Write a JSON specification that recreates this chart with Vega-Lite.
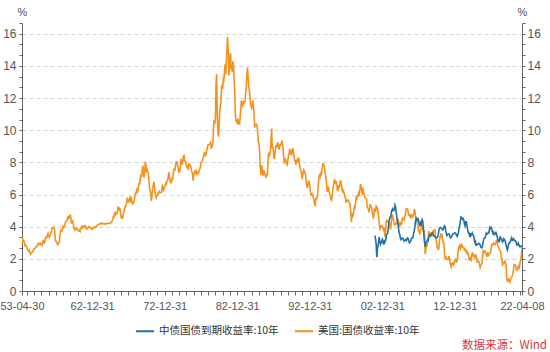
{
"$schema":"https://vega.github.io/schema/vega-lite/v6.json",
"autosize":{"type":"none"},
"width":500,"height":268,
"padding":{"left":22,"top":23,"right":28,"bottom":61},
"background":"white",
"title":{"text":"数据来源：Wind","orient":"bottom","anchor":"end","color":"#d9363e","fontSize":11.5,"font":"Noto Sans CJK SC","fontWeight":"normal","offset":3,"baseline":"top","dx":25,"frame":"group"},
"data":{"format":{"parse":{"d":"date"}},"values":[
{"d":"1953-04-30","u":2.97},{"d":"1953-05","u":3.12},{"d":"1953-06","u":3.23},{"d":"1953-07","u":3.09},{"d":"1953-08","u":3.12},{"d":"1953-09","u":2.99},{"d":"1953-10","u":2.82},{"d":"1953-11","u":2.85},{"d":"1953-12","u":2.79},
{"d":"1954-01","u":2.69},{"d":"1954-02","u":2.62},{"d":"1954-03","u":2.53},{"d":"1954-04","u":2.48},{"d":"1954-05","u":2.54},{"d":"1954-06","u":2.38},{"d":"1954-07","u":2.3},{"d":"1954-08","u":2.36},{"d":"1954-09","u":2.38},{"d":"1954-10","u":2.43},{"d":"1954-11","u":2.48},{"d":"1954-12","u":2.51},
{"d":"1955-01","u":2.61},{"d":"1955-02","u":2.65},{"d":"1955-03","u":2.68},{"d":"1955-04","u":2.75},{"d":"1955-05","u":2.76},{"d":"1955-06","u":2.78},{"d":"1955-07","u":2.9},{"d":"1955-08","u":2.97},{"d":"1955-09","u":2.97},{"d":"1955-10","u":2.88},{"d":"1955-11","u":2.89},{"d":"1955-12","u":2.96},
{"d":"1956-01","u":2.9},{"d":"1956-02","u":2.84},{"d":"1956-03","u":2.96},{"d":"1956-04","u":3.18},{"d":"1956-05","u":3.07},{"d":"1956-06","u":3.0},{"d":"1956-07","u":3.11},{"d":"1956-08","u":3.33},{"d":"1956-09","u":3.38},{"d":"1956-10","u":3.34},{"d":"1956-11","u":3.49},{"d":"1956-12","u":3.59},
{"d":"1957-01","u":3.46},{"d":"1957-02","u":3.34},{"d":"1957-03","u":3.41},{"d":"1957-04","u":3.48},{"d":"1957-05","u":3.6},{"d":"1957-06","u":3.8},{"d":"1957-07","u":3.93},{"d":"1957-08","u":3.93},{"d":"1957-09","u":3.92},{"d":"1957-10","u":3.97},{"d":"1957-11","u":3.72},{"d":"1957-12","u":3.21},
{"d":"1958-01","u":3.09},{"d":"1958-02","u":3.05},{"d":"1958-03","u":2.98},{"d":"1958-04","u":2.88},{"d":"1958-05","u":2.92},{"d":"1958-06","u":2.97},{"d":"1958-07","u":3.2},{"d":"1958-08","u":3.54},{"d":"1958-09","u":3.76},{"d":"1958-10","u":3.8},{"d":"1958-11","u":3.74},{"d":"1958-12","u":3.86},
{"d":"1959-01","u":4.02},{"d":"1959-02","u":3.96},{"d":"1959-03","u":3.99},{"d":"1959-04","u":4.12},{"d":"1959-05","u":4.31},{"d":"1959-06","u":4.34},{"d":"1959-07","u":4.4},{"d":"1959-08","u":4.43},{"d":"1959-09","u":4.68},{"d":"1959-10","u":4.53},{"d":"1959-11","u":4.53},{"d":"1959-12","u":4.69},
{"d":"1960-01","u":4.72},{"d":"1960-02","u":4.49},{"d":"1960-03","u":4.25},{"d":"1960-04","u":4.28},{"d":"1960-05","u":4.35},{"d":"1960-06","u":4.15},{"d":"1960-07","u":3.9},{"d":"1960-08","u":3.8},{"d":"1960-09","u":3.8},{"d":"1960-10","u":3.89},{"d":"1960-11","u":3.93},{"d":"1960-12","u":3.84},
{"d":"1961-01","u":3.84},{"d":"1961-02","u":3.78},{"d":"1961-03","u":3.74},{"d":"1961-04","u":3.78},{"d":"1961-05","u":3.71},{"d":"1961-06","u":3.88},{"d":"1961-07","u":3.92},{"d":"1961-08","u":4.04},{"d":"1961-09","u":3.98},{"d":"1961-10","u":3.92},{"d":"1961-11","u":3.94},{"d":"1961-12","u":4.06},
{"d":"1962-01","u":4.08},{"d":"1962-02","u":4.04},{"d":"1962-03","u":3.93},{"d":"1962-04","u":3.84},{"d":"1962-05","u":3.87},{"d":"1962-06","u":3.91},{"d":"1962-07","u":4.01},{"d":"1962-08","u":3.98},{"d":"1962-09","u":3.98},{"d":"1962-10","u":3.93},{"d":"1962-11","u":3.92},{"d":"1962-12","u":3.86},
{"d":"1963-01","u":3.83},{"d":"1963-02","u":3.92},{"d":"1963-03","u":3.93},{"d":"1963-04","u":3.97},{"d":"1963-05","u":3.93},{"d":"1963-06","u":3.99},{"d":"1963-07","u":4.02},{"d":"1963-08","u":4.0},{"d":"1963-09","u":4.08},{"d":"1963-10","u":4.11},{"d":"1963-11","u":4.12},{"d":"1963-12","u":4.13},
{"d":"1964-01","u":4.17},{"d":"1964-02","u":4.15},{"d":"1964-03","u":4.22},{"d":"1964-04","u":4.23},{"d":"1964-05","u":4.2},{"d":"1964-06","u":4.17},{"d":"1964-07","u":4.19},{"d":"1964-08","u":4.19},{"d":"1964-09","u":4.2},{"d":"1964-10","u":4.19},{"d":"1964-11","u":4.15},{"d":"1964-12","u":4.18},
{"d":"1965-01","u":4.19},{"d":"1965-02","u":4.21},{"d":"1965-03","u":4.21},{"d":"1965-04","u":4.2},{"d":"1965-05","u":4.21},{"d":"1965-06","u":4.21},{"d":"1965-07","u":4.2},{"d":"1965-08","u":4.25},{"d":"1965-09","u":4.29},{"d":"1965-10","u":4.35},{"d":"1965-11","u":4.45},{"d":"1965-12","u":4.62},
{"d":"1966-01","u":4.61},{"d":"1966-02","u":4.83},{"d":"1966-03","u":4.87},{"d":"1966-04","u":4.75},{"d":"1966-05","u":4.78},{"d":"1966-06","u":4.81},{"d":"1966-07","u":5.02},{"d":"1966-08","u":5.22},{"d":"1966-09","u":5.18},{"d":"1966-10","u":5.01},{"d":"1966-11","u":5.16},{"d":"1966-12","u":4.84},
{"d":"1967-01","u":4.58},{"d":"1967-02","u":4.63},{"d":"1967-03","u":4.54},{"d":"1967-04","u":4.59},{"d":"1967-05","u":4.85},{"d":"1967-06","u":5.02},{"d":"1967-07","u":5.16},{"d":"1967-08","u":5.28},{"d":"1967-09","u":5.3},{"d":"1967-10","u":5.48},{"d":"1967-11","u":5.75},{"d":"1967-12","u":5.7},
{"d":"1968-01","u":5.53},{"d":"1968-02","u":5.56},{"d":"1968-03","u":5.74},{"d":"1968-04","u":5.64},{"d":"1968-05","u":5.87},{"d":"1968-06","u":5.72},{"d":"1968-07","u":5.5},{"d":"1968-08","u":5.42},{"d":"1968-09","u":5.46},{"d":"1968-10","u":5.58},{"d":"1968-11","u":5.7},{"d":"1968-12","u":6.03},
{"d":"1969-01","u":6.04},{"d":"1969-02","u":6.19},{"d":"1969-03","u":6.3},{"d":"1969-04","u":6.17},{"d":"1969-05","u":6.32},{"d":"1969-06","u":6.57},{"d":"1969-07","u":6.72},{"d":"1969-08","u":6.69},{"d":"1969-09","u":7.16},{"d":"1969-10","u":7.1},{"d":"1969-11","u":7.14},{"d":"1969-12","u":7.65},
{"d":"1970-01","u":7.79},{"d":"1970-02","u":7.24},{"d":"1970-03","u":7.07},{"d":"1970-04","u":7.39},{"d":"1970-05","u":8.05},{"d":"1970-06","u":7.84},{"d":"1970-07","u":7.46},{"d":"1970-08","u":7.53},{"d":"1970-09","u":7.39},{"d":"1970-10","u":7.33},{"d":"1970-11","u":6.84},{"d":"1970-12","u":6.39},
{"d":"1971-01","u":6.24},{"d":"1971-02","u":6.11},{"d":"1971-03","u":5.6},{"d":"1971-04","u":5.83},{"d":"1971-05","u":6.39},{"d":"1971-06","u":6.52},{"d":"1971-07","u":6.8},{"d":"1971-08","u":6.58},{"d":"1971-09","u":6.14},{"d":"1971-10","u":5.93},{"d":"1971-11","u":5.81},{"d":"1971-12","u":5.93},
{"d":"1972-01","u":5.95},{"d":"1972-02","u":6.08},{"d":"1972-03","u":6.07},{"d":"1972-04","u":6.19},{"d":"1972-05","u":6.13},{"d":"1972-06","u":6.11},{"d":"1972-07","u":6.11},{"d":"1972-08","u":6.21},{"d":"1972-09","u":6.55},{"d":"1972-10","u":6.48},{"d":"1972-11","u":6.28},{"d":"1972-12","u":6.36},
{"d":"1973-01","u":6.46},{"d":"1973-02","u":6.64},{"d":"1973-03","u":6.71},{"d":"1973-04","u":6.67},{"d":"1973-05","u":6.85},{"d":"1973-06","u":6.9},{"d":"1973-07","u":7.13},{"d":"1973-08","u":7.4},{"d":"1973-09","u":7.09},{"d":"1973-10","u":6.79},{"d":"1973-11","u":6.73},{"d":"1973-12","u":6.74},
{"d":"1974-01","u":6.99},{"d":"1974-02","u":6.96},{"d":"1974-03","u":7.21},{"d":"1974-04","u":7.51},{"d":"1974-05","u":7.58},{"d":"1974-06","u":7.54},{"d":"1974-07","u":7.81},{"d":"1974-08","u":8.04},{"d":"1974-09","u":8.04},{"d":"1974-10","u":7.9},{"d":"1974-11","u":7.68},{"d":"1974-12","u":7.43},
{"d":"1975-01","u":7.5},{"d":"1975-02","u":7.39},{"d":"1975-03","u":7.73},{"d":"1975-04","u":8.23},{"d":"1975-05","u":8.06},{"d":"1975-06","u":7.86},{"d":"1975-07","u":8.06},{"d":"1975-08","u":8.4},{"d":"1975-09","u":8.43},{"d":"1975-10","u":8.14},{"d":"1975-11","u":8.05},{"d":"1975-12","u":8.0},
{"d":"1976-01","u":7.74},{"d":"1976-02","u":7.79},{"d":"1976-03","u":7.73},{"d":"1976-04","u":7.56},{"d":"1976-05","u":7.9},{"d":"1976-06","u":7.86},{"d":"1976-07","u":7.83},{"d":"1976-08","u":7.77},{"d":"1976-09","u":7.59},{"d":"1976-10","u":7.41},{"d":"1976-11","u":7.29},{"d":"1976-12","u":6.87},
{"d":"1977-01","u":7.21},{"d":"1977-02","u":7.39},{"d":"1977-03","u":7.46},{"d":"1977-04","u":7.37},{"d":"1977-05","u":7.46},{"d":"1977-06","u":7.28},{"d":"1977-07","u":7.33},{"d":"1977-08","u":7.4},{"d":"1977-09","u":7.34},{"d":"1977-10","u":7.52},{"d":"1977-11","u":7.58},{"d":"1977-12","u":7.69},
{"d":"1978-01","u":7.96},{"d":"1978-02","u":8.03},{"d":"1978-03","u":8.04},{"d":"1978-04","u":8.15},{"d":"1978-05","u":8.35},{"d":"1978-06","u":8.46},{"d":"1978-07","u":8.64},{"d":"1978-08","u":8.41},{"d":"1978-09","u":8.42},{"d":"1978-10","u":8.64},{"d":"1978-11","u":8.81},{"d":"1978-12","u":9.01},
{"d":"1979-01","u":9.1},{"d":"1979-02","u":9.1},{"d":"1979-03","u":9.12},{"d":"1979-04","u":9.18},{"d":"1979-05","u":9.25},{"d":"1979-06","u":8.91},{"d":"1979-07","u":8.95},{"d":"1979-08","u":9.03},{"d":"1979-09","u":9.33},{"d":"1979-10","u":10.3},{"d":"1979-11","u":10.65},{"d":"1979-12","u":10.39},
{"d":"1980-01","u":10.8},{"d":"1980-02","u":12.9},{"d":"1980-03","u":13.5},{"d":"1980-04","u":11.0},{"d":"1980-05","u":10.0},{"d":"1980-06","u":9.6},{"d":"1980-07","u":10.25},{"d":"1980-08","u":11.1},{"d":"1980-09","u":11.51},{"d":"1980-10","u":11.75},{"d":"1980-11","u":12.68},{"d":"1980-12","u":12.84},
{"d":"1981-01","u":12.57},{"d":"1981-02","u":13.19},{"d":"1981-03","u":13.12},{"d":"1981-04","u":13.68},{"d":"1981-05","u":14.1},{"d":"1981-06","u":13.47},{"d":"1981-07","u":14.28},{"d":"1981-08","u":14.94},{"d":"1981-09","u":15.8},{"d":"1981-10","u":15.15},{"d":"1981-11","u":13.39},{"d":"1981-12","u":13.72},
{"d":"1982-01","u":14.59},{"d":"1982-02","u":14.8},{"d":"1982-03","u":13.86},{"d":"1982-04","u":13.87},{"d":"1982-05","u":13.62},{"d":"1982-06","u":14.3},{"d":"1982-07","u":13.95},{"d":"1982-08","u":13.06},{"d":"1982-09","u":12.34},{"d":"1982-10","u":10.91},{"d":"1982-11","u":10.55},{"d":"1982-12","u":10.54},
{"d":"1983-01","u":10.46},{"d":"1983-02","u":10.72},{"d":"1983-03","u":10.51},{"d":"1983-04","u":10.4},{"d":"1983-05","u":10.38},{"d":"1983-06","u":10.85},{"d":"1983-07","u":11.38},{"d":"1983-08","u":11.85},{"d":"1983-09","u":11.65},{"d":"1983-10","u":11.54},{"d":"1983-11","u":11.69},{"d":"1983-12","u":11.83},
{"d":"1984-01","u":11.67},{"d":"1984-02","u":11.84},{"d":"1984-03","u":12.32},{"d":"1984-04","u":12.63},{"d":"1984-05","u":13.41},{"d":"1984-06","u":13.9},{"d":"1984-07","u":13.36},{"d":"1984-08","u":12.72},{"d":"1984-09","u":12.52},{"d":"1984-10","u":12.16},{"d":"1984-11","u":11.57},{"d":"1984-12","u":11.5},
{"d":"1985-01","u":11.38},{"d":"1985-02","u":11.51},{"d":"1985-03","u":11.86},{"d":"1985-04","u":11.43},{"d":"1985-05","u":10.85},{"d":"1985-06","u":10.16},{"d":"1985-07","u":10.31},{"d":"1985-08","u":10.33},{"d":"1985-09","u":10.37},{"d":"1985-10","u":10.24},{"d":"1985-11","u":9.78},{"d":"1985-12","u":9.26},
{"d":"1986-01","u":9.19},{"d":"1986-02","u":8.7},{"d":"1986-03","u":7.78},{"d":"1986-04","u":7.2},{"d":"1986-05","u":7.71},{"d":"1986-06","u":7.8},{"d":"1986-07","u":7.3},{"d":"1986-08","u":7.17},{"d":"1986-09","u":7.45},{"d":"1986-10","u":7.43},{"d":"1986-11","u":7.25},{"d":"1986-12","u":7.11},
{"d":"1987-01","u":7.08},{"d":"1987-02","u":7.25},{"d":"1987-03","u":7.25},{"d":"1987-04","u":8.02},{"d":"1987-05","u":8.61},{"d":"1987-06","u":8.4},{"d":"1987-07","u":8.45},{"d":"1987-08","u":8.76},{"d":"1987-09","u":9.42},{"d":"1987-10","u":10.1},{"d":"1987-11","u":8.86},{"d":"1987-12","u":8.99},
{"d":"1988-01","u":8.67},{"d":"1988-02","u":8.21},{"d":"1988-03","u":8.37},{"d":"1988-04","u":8.72},{"d":"1988-05","u":9.09},{"d":"1988-06","u":8.92},{"d":"1988-07","u":9.06},{"d":"1988-08","u":9.26},{"d":"1988-09","u":8.98},{"d":"1988-10","u":8.8},{"d":"1988-11","u":8.96},{"d":"1988-12","u":9.11},
{"d":"1989-01","u":9.09},{"d":"1989-02","u":9.17},{"d":"1989-03","u":9.36},{"d":"1989-04","u":9.18},{"d":"1989-05","u":8.86},{"d":"1989-06","u":8.28},{"d":"1989-07","u":8.02},{"d":"1989-08","u":8.11},{"d":"1989-09","u":8.19},{"d":"1989-10","u":8.01},{"d":"1989-11","u":7.87},{"d":"1989-12","u":7.84},
{"d":"1990-01","u":8.21},{"d":"1990-02","u":8.47},{"d":"1990-03","u":8.59},{"d":"1990-04","u":8.79},{"d":"1990-05","u":8.76},{"d":"1990-06","u":8.48},{"d":"1990-07","u":8.47},{"d":"1990-08","u":8.75},{"d":"1990-09","u":8.89},{"d":"1990-10","u":8.72},{"d":"1990-11","u":8.39},{"d":"1990-12","u":8.08},
{"d":"1991-01","u":8.09},{"d":"1991-02","u":7.85},{"d":"1991-03","u":8.11},{"d":"1991-04","u":8.04},{"d":"1991-05","u":8.07},{"d":"1991-06","u":8.28},{"d":"1991-07","u":8.27},{"d":"1991-08","u":7.9},{"d":"1991-09","u":7.65},{"d":"1991-10","u":7.53},{"d":"1991-11","u":7.42},{"d":"1991-12","u":7.09},
{"d":"1992-01","u":7.03},{"d":"1992-02","u":7.34},{"d":"1992-03","u":7.54},{"d":"1992-04","u":7.48},{"d":"1992-05","u":7.39},{"d":"1992-06","u":7.26},{"d":"1992-07","u":6.84},{"d":"1992-08","u":6.59},{"d":"1992-09","u":6.42},{"d":"1992-10","u":6.59},{"d":"1992-11","u":6.87},{"d":"1992-12","u":6.77},
{"d":"1993-01","u":6.6},{"d":"1993-02","u":6.26},{"d":"1993-03","u":5.98},{"d":"1993-04","u":5.97},{"d":"1993-05","u":6.04},{"d":"1993-06","u":5.96},{"d":"1993-07","u":5.81},{"d":"1993-08","u":5.68},{"d":"1993-09","u":5.36},{"d":"1993-10","u":5.33},{"d":"1993-11","u":5.72},{"d":"1993-12","u":5.77},
{"d":"1994-01","u":5.75},{"d":"1994-02","u":5.97},{"d":"1994-03","u":6.48},{"d":"1994-04","u":6.97},{"d":"1994-05","u":7.18},{"d":"1994-06","u":7.1},{"d":"1994-07","u":7.3},{"d":"1994-08","u":7.24},{"d":"1994-09","u":7.46},{"d":"1994-10","u":7.74},{"d":"1994-11","u":7.96},{"d":"1994-12","u":7.81},
{"d":"1995-01","u":7.78},{"d":"1995-02","u":7.47},{"d":"1995-03","u":7.2},{"d":"1995-04","u":7.06},{"d":"1995-05","u":6.63},{"d":"1995-06","u":6.17},{"d":"1995-07","u":6.28},{"d":"1995-08","u":6.49},{"d":"1995-09","u":6.2},{"d":"1995-10","u":6.04},{"d":"1995-11","u":5.93},{"d":"1995-12","u":5.71},
{"d":"1996-01","u":5.65},{"d":"1996-02","u":5.81},{"d":"1996-03","u":6.27},{"d":"1996-04","u":6.51},{"d":"1996-05","u":6.74},{"d":"1996-06","u":6.91},{"d":"1996-07","u":6.87},{"d":"1996-08","u":6.64},{"d":"1996-09","u":6.83},{"d":"1996-10","u":6.53},{"d":"1996-11","u":6.2},{"d":"1996-12","u":6.3},
{"d":"1997-01","u":6.58},{"d":"1997-02","u":6.42},{"d":"1997-03","u":6.69},{"d":"1997-04","u":6.89},{"d":"1997-05","u":6.71},{"d":"1997-06","u":6.49},{"d":"1997-07","u":6.22},{"d":"1997-08","u":6.3},{"d":"1997-09","u":6.21},{"d":"1997-10","u":6.03},{"d":"1997-11","u":5.88},{"d":"1997-12","u":5.81},
{"d":"1998-01","u":5.54},{"d":"1998-02","u":5.57},{"d":"1998-03","u":5.65},{"d":"1998-04","u":5.64},{"d":"1998-05","u":5.65},{"d":"1998-06","u":5.5},{"d":"1998-07","u":5.46},{"d":"1998-08","u":5.34},{"d":"1998-09","u":4.81},{"d":"1998-10","u":4.3},{"d":"1998-11","u":4.83},{"d":"1998-12","u":4.65},
{"d":"1999-01","u":4.72},{"d":"1999-02","u":5.0},{"d":"1999-03","u":5.23},{"d":"1999-04","u":5.18},{"d":"1999-05","u":5.54},{"d":"1999-06","u":5.9},{"d":"1999-07","u":5.79},{"d":"1999-08","u":5.94},{"d":"1999-09","u":5.92},{"d":"1999-10","u":6.11},{"d":"1999-11","u":6.03},{"d":"1999-12","u":6.28},
{"d":"2000-01","u":6.66},{"d":"2000-02","u":6.52},{"d":"2000-03","u":6.26},{"d":"2000-04","u":5.99},{"d":"2000-05","u":6.44},{"d":"2000-06","u":6.1},{"d":"2000-07","u":6.05},{"d":"2000-08","u":5.83},{"d":"2000-09","u":5.8},{"d":"2000-10","u":5.74},{"d":"2000-11","u":5.72},{"d":"2000-12","u":5.24},
{"d":"2001-01","u":5.16},{"d":"2001-02","u":5.1},{"d":"2001-03","u":4.89},{"d":"2001-04","u":5.14},{"d":"2001-05","u":5.39},{"d":"2001-06","u":5.28},{"d":"2001-07","u":5.24},{"d":"2001-08","u":4.97},{"d":"2001-09","u":4.73},{"d":"2001-10","u":4.57},{"d":"2001-11","u":4.65},{"d":"2001-12","u":5.09},
{"d":"2002-01","u":5.04,"c":3.45},{"d":"2002-02","u":4.91,"c":3.2},{"d":"2002-03","u":5.28,"c":2.9},{"d":"2002-04","u":5.21,"c":2.1},{"d":"2002-05","u":5.16,"c":2.6},{"d":"2002-06","u":4.93,"c":2.8},{"d":"2002-07","u":4.65,"c":3.1},{"d":"2002-08","u":4.26,"c":3.35},{"d":"2002-09","u":3.87,"c":3.05},{"d":"2002-10","u":3.94,"c":2.9},{"d":"2002-11","u":4.05,"c":3.0},{"d":"2002-12","u":4.03,"c":3.1},
{"d":"2003-01","u":4.05,"c":3.2},{"d":"2003-02","u":3.9,"c":3.0},{"d":"2003-03","u":3.81,"c":2.95},{"d":"2003-04","u":3.96,"c":3.1},{"d":"2003-05","u":3.57,"c":3.0},{"d":"2003-06","u":3.33,"c":3.1},{"d":"2003-07","u":3.98,"c":3.2},{"d":"2003-08","u":4.45,"c":3.45},{"d":"2003-09","u":4.27,"c":3.55},{"d":"2003-10","u":4.29,"c":3.6},{"d":"2003-11","u":4.3,"c":3.85},{"d":"2003-12","u":4.27,"c":4.3},
{"d":"2004-01","u":4.15,"c":4.5},{"d":"2004-02","u":4.08,"c":4.6},{"d":"2004-03","u":3.83,"c":4.6},{"d":"2004-04","u":4.35,"c":4.9},{"d":"2004-05","u":4.72,"c":5.0},{"d":"2004-06","u":4.73,"c":5.1},{"d":"2004-07","u":4.5,"c":5.0},{"d":"2004-08","u":4.28,"c":5.0},{"d":"2004-09","u":4.13,"c":5.1},{"d":"2004-10","u":4.1,"c":5.35},{"d":"2004-11","u":4.19,"c":5.25},{"d":"2004-12","u":4.23,"c":4.9},
{"d":"2005-01","u":4.22,"c":4.6},{"d":"2005-02","u":4.17,"c":4.3},{"d":"2005-03","u":4.5,"c":4.2},{"d":"2005-04","u":4.34,"c":3.9},{"d":"2005-05","u":4.14,"c":3.6},{"d":"2005-06","u":4.0,"c":3.5},{"d":"2005-07","u":4.18,"c":3.3},{"d":"2005-08","u":4.26,"c":3.2},{"d":"2005-09","u":4.2,"c":3.25},{"d":"2005-10","u":4.46,"c":3.3},{"d":"2005-11","u":4.54,"c":3.3},{"d":"2005-12","u":4.47,"c":3.2},
{"d":"2006-01","u":4.42,"c":3.1},{"d":"2006-02","u":4.57,"c":3.15},{"d":"2006-03","u":4.72,"c":3.15},{"d":"2006-04","u":4.99,"c":3.2},{"d":"2006-05","u":5.11,"c":3.15},{"d":"2006-06","u":5.11,"c":3.25},{"d":"2006-07","u":5.09,"c":3.3},{"d":"2006-08","u":4.88,"c":3.25},{"d":"2006-09","u":4.72,"c":3.1},{"d":"2006-10","u":4.73,"c":3.0},{"d":"2006-11","u":4.6,"c":3.05},{"d":"2006-12","u":4.56,"c":3.1},
{"d":"2007-01","u":4.76,"c":3.25},{"d":"2007-02","u":4.72,"c":3.3},{"d":"2007-03","u":4.56,"c":3.3},{"d":"2007-04","u":4.69,"c":3.35},{"d":"2007-05","u":4.75,"c":3.6},{"d":"2007-06","u":5.1,"c":3.75},{"d":"2007-07","u":5.0,"c":4.0},{"d":"2007-08","u":4.67,"c":4.35},{"d":"2007-09","u":4.52,"c":4.5},{"d":"2007-10","u":4.53,"c":4.4},{"d":"2007-11","u":4.15,"c":4.45},{"d":"2007-12","u":4.1,"c":4.5},
{"d":"2008-01","u":3.74,"c":4.4},{"d":"2008-02","u":3.74,"c":4.2},{"d":"2008-03","u":3.51,"c":4.1},{"d":"2008-04","u":3.68,"c":4.2},{"d":"2008-05","u":3.88,"c":4.05},{"d":"2008-06","u":4.1,"c":4.35},{"d":"2008-07","u":4.01,"c":4.45},{"d":"2008-08","u":3.89,"c":4.35},{"d":"2008-09","u":3.69,"c":3.9},{"d":"2008-10","u":3.81,"c":3.4},{"d":"2008-11","u":3.53,"c":3.0},{"d":"2008-12","u":2.3,"c":2.75},
{"d":"2009-01","u":2.52,"c":3.0},{"d":"2009-02","u":2.87,"c":3.05},{"d":"2009-03","u":2.82,"c":3.1},{"d":"2009-04","u":2.93,"c":3.2},{"d":"2009-05","u":3.29,"c":3.15},{"d":"2009-06","u":3.72,"c":3.3},{"d":"2009-07","u":3.56,"c":3.5},{"d":"2009-08","u":3.59,"c":3.5},{"d":"2009-09","u":3.4,"c":3.45},{"d":"2009-10","u":3.39,"c":3.55},{"d":"2009-11","u":3.4,"c":3.6},{"d":"2009-12","u":3.59,"c":3.6},
{"d":"2010-01","u":3.73,"c":3.55},{"d":"2010-02","u":3.69,"c":3.45},{"d":"2010-03","u":3.73,"c":3.4},{"d":"2010-04","u":3.85,"c":3.4},{"d":"2010-05","u":3.42,"c":3.35},{"d":"2010-06","u":3.2,"c":3.3},{"d":"2010-07","u":3.01,"c":3.3},{"d":"2010-08","u":2.7,"c":3.35},{"d":"2010-09","u":2.65,"c":3.4},{"d":"2010-10","u":2.54,"c":3.6},{"d":"2010-11","u":2.76,"c":3.85},{"d":"2010-12","u":3.29,"c":3.9},
{"d":"2011-01","u":3.39,"c":3.95},{"d":"2011-02","u":3.58,"c":3.95},{"d":"2011-03","u":3.41,"c":3.9},{"d":"2011-04","u":3.46,"c":3.85},{"d":"2011-05","u":3.17,"c":3.8},{"d":"2011-06","u":3.0,"c":3.85},{"d":"2011-07","u":3.0,"c":3.95},{"d":"2011-08","u":2.3,"c":4.05},{"d":"2011-09","u":1.98,"c":4.0},{"d":"2011-10","u":2.15,"c":3.75},{"d":"2011-11","u":2.01,"c":3.6},{"d":"2011-12","u":1.98,"c":3.45},
{"d":"2012-01","u":1.97,"c":3.5},{"d":"2012-02","u":1.97,"c":3.55},{"d":"2012-03","u":2.17,"c":3.55},{"d":"2012-04","u":2.05,"c":3.55},{"d":"2012-05","u":1.8,"c":3.35},{"d":"2012-06","u":1.62,"c":3.3},{"d":"2012-07","u":1.5,"c":3.35},{"d":"2012-08","u":1.68,"c":3.4},{"d":"2012-09","u":1.72,"c":3.5},{"d":"2012-10","u":1.75,"c":3.55},{"d":"2012-11","u":1.65,"c":3.55},{"d":"2012-12","u":1.72,"c":3.6},
{"d":"2013-01","u":1.91,"c":3.6},{"d":"2013-02","u":1.98,"c":3.6},{"d":"2013-03","u":1.96,"c":3.55},{"d":"2013-04","u":1.76,"c":3.45},{"d":"2013-05","u":1.93,"c":3.4},{"d":"2013-06","u":2.3,"c":3.5},{"d":"2013-07","u":2.58,"c":3.6},{"d":"2013-08","u":2.74,"c":3.9},{"d":"2013-09","u":2.81,"c":4.05},{"d":"2013-10","u":2.62,"c":4.25},{"d":"2013-11","u":2.72,"c":4.6},{"d":"2013-12","u":2.9,"c":4.6},
{"d":"2014-01","u":2.86,"c":4.5},{"d":"2014-02","u":2.71,"c":4.45},{"d":"2014-03","u":2.72,"c":4.5},{"d":"2014-04","u":2.71,"c":4.4},{"d":"2014-05","u":2.56,"c":4.15},{"d":"2014-06","u":2.6,"c":4.05},{"d":"2014-07","u":2.54,"c":4.3},{"d":"2014-08","u":2.42,"c":4.3},{"d":"2014-09","u":2.53,"c":4.15},{"d":"2014-10","u":2.3,"c":3.9},{"d":"2014-11","u":2.33,"c":3.65},{"d":"2014-12","u":2.21,"c":3.65},
{"d":"2015-01","u":1.88,"c":3.5},{"d":"2015-02","u":1.98,"c":3.35},{"d":"2015-03","u":2.04,"c":3.6},{"d":"2015-04","u":1.94,"c":3.45},{"d":"2015-05","u":2.2,"c":3.5},{"d":"2015-06","u":2.36,"c":3.6},{"d":"2015-07","u":2.32,"c":3.5},{"d":"2015-08","u":2.17,"c":3.45},{"d":"2015-09","u":2.17,"c":3.3},{"d":"2015-10","u":2.07,"c":3.05},{"d":"2015-11","u":2.26,"c":3.1},{"d":"2015-12","u":2.24,"c":2.85},
{"d":"2016-01","u":2.09,"c":2.85},{"d":"2016-02","u":1.78,"c":2.9},{"d":"2016-03","u":1.89,"c":2.9},{"d":"2016-04","u":1.81,"c":2.95},{"d":"2016-05","u":1.81,"c":2.95},{"d":"2016-06","u":1.64,"c":2.95},{"d":"2016-07","u":1.45,"c":2.85},{"d":"2016-08","u":1.56,"c":2.75},{"d":"2016-09","u":1.63,"c":2.7},{"d":"2016-10","u":1.76,"c":2.7},{"d":"2016-11","u":2.14,"c":2.85},{"d":"2016-12","u":2.49,"c":3.05},
{"d":"2017-01","u":2.43,"c":3.25},{"d":"2017-02","u":2.42,"c":3.3},{"d":"2017-03","u":2.48,"c":3.3},{"d":"2017-04","u":2.3,"c":3.4},{"d":"2017-05","u":2.3,"c":3.6},{"d":"2017-06","u":2.19,"c":3.55},{"d":"2017-07","u":2.32,"c":3.55},{"d":"2017-08","u":2.21,"c":3.6},{"d":"2017-09","u":2.2,"c":3.6},{"d":"2017-10","u":2.36,"c":3.75},{"d":"2017-11","u":2.35,"c":3.95},{"d":"2017-12","u":2.4,"c":3.9},
{"d":"2018-01","u":2.58,"c":3.95},{"d":"2018-02","u":2.86,"c":3.85},{"d":"2018-03","u":2.84,"c":3.75},{"d":"2018-04","u":2.87,"c":3.6},{"d":"2018-05","u":2.98,"c":3.65},{"d":"2018-06","u":2.91,"c":3.5},{"d":"2018-07","u":2.89,"c":3.5},{"d":"2018-08","u":2.89,"c":3.6},{"d":"2018-09","u":3.0,"c":3.65},{"d":"2018-10","u":3.15,"c":3.55},{"d":"2018-11","u":3.12,"c":3.4},{"d":"2018-12","u":2.83,"c":3.25},
{"d":"2019-01","u":2.71,"c":3.1},{"d":"2019-02","u":2.68,"c":3.15},{"d":"2019-03","u":2.57,"c":3.1},{"d":"2019-04","u":2.53,"c":3.4},{"d":"2019-05","u":2.4,"c":3.3},{"d":"2019-06","u":2.07,"c":3.25},{"d":"2019-07","u":2.06,"c":3.15},{"d":"2019-08","u":1.63,"c":3.05},{"d":"2019-09","u":1.7,"c":3.1},{"d":"2019-10","u":1.71,"c":3.25},{"d":"2019-11","u":1.81,"c":3.2},{"d":"2019-12","u":1.86,"c":3.15},
{"d":"2020-01","u":1.76,"c":3.0},{"d":"2020-02","u":1.5,"c":2.85},{"d":"2020-03","u":0.75,"c":2.65},{"d":"2020-04","u":0.62,"c":2.55},{"d":"2020-05","u":0.67,"c":2.7},{"d":"2020-06","u":0.73,"c":2.9},{"d":"2020-07","u":0.6,"c":3.0},{"d":"2020-08","u":0.55,"c":3.0},{"d":"2020-09","u":0.68,"c":3.1},{"d":"2020-10","u":0.79,"c":3.2},{"d":"2020-11","u":0.87,"c":3.3},{"d":"2020-12","u":0.93,"c":3.15},
{"d":"2021-01","u":1.08,"c":3.15},{"d":"2021-02","u":1.26,"c":3.25},{"d":"2021-03","u":1.65,"c":3.2},{"d":"2021-04","u":1.64,"c":3.15},{"d":"2021-05","u":1.62,"c":3.1},{"d":"2021-06","u":1.52,"c":3.1},{"d":"2021-07","u":1.32,"c":2.95},{"d":"2021-08","u":1.28,"c":2.85},{"d":"2021-09","u":1.37,"c":2.88},{"d":"2021-10","u":1.58,"c":2.98},{"d":"2021-11","u":1.56,"c":2.88},{"d":"2021-12","u":1.47,"c":2.8},
{"d":"2022-01","u":1.76,"c":2.75},{"d":"2022-02","u":1.93,"c":2.78},{"d":"2022-03","u":2.13,"c":2.8},{"d":"2022-04-08","u":2.72,"c":2.76}
]},
"encoding":{
"x":{"field":"d","type":"temporal","title":null,
"scale":{"domain":[{"year":1953,"month":4,"date":30,"utc":true},{"year":2022,"month":4,"date":8,"utc":true}]},
"axis":{"values":[{"year":1953,"month":4,"date":30,"utc":true},{"year":1953,"month":12,"date":31,"utc":true},{"year":1954,"month":12,"date":31,"utc":true},{"year":1955,"month":12,"date":31,"utc":true},{"year":1956,"month":12,"date":31,"utc":true},{"year":1957,"month":12,"date":31,"utc":true},{"year":1958,"month":12,"date":31,"utc":true},{"year":1959,"month":12,"date":31,"utc":true},{"year":1960,"month":12,"date":31,"utc":true},{"year":1961,"month":12,"date":31,"utc":true},{"year":1962,"month":12,"date":31,"utc":true},{"year":1963,"month":12,"date":31,"utc":true},{"year":1964,"month":12,"date":31,"utc":true},{"year":1965,"month":12,"date":31,"utc":true},{"year":1966,"month":12,"date":31,"utc":true},{"year":1967,"month":12,"date":31,"utc":true},{"year":1968,"month":12,"date":31,"utc":true},{"year":1969,"month":12,"date":31,"utc":true},{"year":1970,"month":12,"date":31,"utc":true},{"year":1971,"month":12,"date":31,"utc":true},{"year":1972,"month":12,"date":31,"utc":true},{"year":1973,"month":12,"date":31,"utc":true},{"year":1974,"month":12,"date":31,"utc":true},{"year":1975,"month":12,"date":31,"utc":true},{"year":1976,"month":12,"date":31,"utc":true},{"year":1977,"month":12,"date":31,"utc":true},{"year":1978,"month":12,"date":31,"utc":true},{"year":1979,"month":12,"date":31,"utc":true},{"year":1980,"month":12,"date":31,"utc":true},{"year":1981,"month":12,"date":31,"utc":true},{"year":1982,"month":12,"date":31,"utc":true},{"year":1983,"month":12,"date":31,"utc":true},{"year":1984,"month":12,"date":31,"utc":true},{"year":1985,"month":12,"date":31,"utc":true},{"year":1986,"month":12,"date":31,"utc":true},{"year":1987,"month":12,"date":31,"utc":true},{"year":1988,"month":12,"date":31,"utc":true},{"year":1989,"month":12,"date":31,"utc":true},{"year":1990,"month":12,"date":31,"utc":true},{"year":1991,"month":12,"date":31,"utc":true},{"year":1992,"month":12,"date":31,"utc":true},{"year":1993,"month":12,"date":31,"utc":true},{"year":1994,"month":12,"date":31,"utc":true},{"year":1995,"month":12,"date":31,"utc":true},{"year":1996,"month":12,"date":31,"utc":true},{"year":1997,"month":12,"date":31,"utc":true},{"year":1998,"month":12,"date":31,"utc":true},{"year":1999,"month":12,"date":31,"utc":true},{"year":2000,"month":12,"date":31,"utc":true},{"year":2001,"month":12,"date":31,"utc":true},{"year":2002,"month":12,"date":31,"utc":true},{"year":2003,"month":12,"date":31,"utc":true},{"year":2004,"month":12,"date":31,"utc":true},{"year":2005,"month":12,"date":31,"utc":true},{"year":2006,"month":12,"date":31,"utc":true},{"year":2007,"month":12,"date":31,"utc":true},{"year":2008,"month":12,"date":31,"utc":true},{"year":2009,"month":12,"date":31,"utc":true},{"year":2010,"month":12,"date":31,"utc":true},{"year":2011,"month":12,"date":31,"utc":true},{"year":2012,"month":12,"date":31,"utc":true},{"year":2013,"month":12,"date":31,"utc":true},{"year":2014,"month":12,"date":31,"utc":true},{"year":2015,"month":12,"date":31,"utc":true},{"year":2016,"month":12,"date":31,"utc":true},{"year":2017,"month":12,"date":31,"utc":true},{"year":2018,"month":12,"date":31,"utc":true},{"year":2019,"month":12,"date":31,"utc":true},{"year":2020,"month":12,"date":31,"utc":true},{"year":2021,"month":12,"date":31,"utc":true},{"year":2022,"month":4,"date":8,"utc":true}],
"labelExpr":"indexof(['53-04-30','62-12-31','72-12-31','82-12-31','92-12-31','02-12-31','12-12-31','22-04-08'], utcFormat(datum.value, '%y-%m-%d')) >= 0 ? utcFormat(datum.value, '%y-%m-%d') : ''",
"labelOverlap":false,"labelFlush":false,"labelBound":false,"grid":false,"tickSize":4,"labelPadding":5,
"labelFont":"Liberation Sans","labelFontSize":11,"labelColor":"#555555","domainColor":"#666666","tickColor":"#666666"}}
},
"layer":[
{"mark":{"type":"line","strokeWidth":1.6,"clip":true},
"encoding":{
"y":{"field":"u","type":"quantitative","scale":{"domain":[0,16.67],"nice":false,"zero":true},
"axis":{"orient":"left","title":"%","titleAngle":0,"titleX":0,"titleY":-11,"titleAlign":"center","titleBaseline":"middle","titleFont":"Liberation Sans","titleFontSize":11,"titleFontWeight":"normal","titleColor":"#555555",
"values":[0,0.667,1.333,2,2.667,3.333,4,4.667,5.333,6,6.667,7.333,8,8.667,9.333,10,10.667,11.333,12,12.667,13.333,14,14.667,15.333,16,16.667],
"labelExpr":"abs(datum.value - round(datum.value)) < 0.01 && round(datum.value) % 2 == 0 ? format(round(datum.value), 'd') : ''",
"labelOverlap":false,"labelFont":"Liberation Sans","labelFontSize":12,"labelColor":"#555555","labelPadding":3,"tickSize":3,
"domainColor":"#666666","tickColor":"#666666",
"grid":true,"gridColor":"#d4d4d4","gridDash":[4,3],
"gridOpacity":{"condition":{"test":"abs(datum.value - round(datum.value)) < 0.01 && round(datum.value) % 2 == 0 && datum.value > 0.5","value":1},"value":0}}},
"color":{"datum":"美国:国债收益率:10年","type":"nominal","scale":{"domain":["中债国债到期收益率:10年","美国:国债收益率:10年"],"range":["#2271a6","#f5921e"]},
"legend":{"orient":"none","legendX":113,"legendY":298,"direction":"horizontal","title":null,"symbolType":"stroke","symbolSize":324,"symbolStrokeWidth":2,"labelFont":"Noto Sans CJK SC","labelFontSize":10.5,"labelColor":"#333333","columnPadding":12,"labelOffset":4}}
}},
{"transform":[{"filter":"isValid(datum.c)"}],
"mark":{"type":"line","strokeWidth":1.6,"clip":true},
"encoding":{
"y":{"field":"c","type":"quantitative","scale":{"domain":[0,16.67],"nice":false,"zero":true},
"axis":{"orient":"right","title":"%","titleAngle":0,"titleX":0,"titleY":-11,"titleAlign":"center","titleBaseline":"middle","titleFont":"Liberation Sans","titleFontSize":11,"titleFontWeight":"normal","titleColor":"#555555",
"values":[0,0.667,1.333,2,2.667,3.333,4,4.667,5.333,6,6.667,7.333,8,8.667,9.333,10,10.667,11.333,12,12.667,13.333,14,14.667,15.333,16,16.667],
"labelExpr":"abs(datum.value - round(datum.value)) < 0.01 && round(datum.value) % 2 == 0 ? format(round(datum.value), 'd') : ''",
"labelOverlap":false,"labelFont":"Liberation Sans","labelFontSize":12,"labelColor":"#555555","labelPadding":2,"tickSize":3,
"domainColor":"#666666","tickColor":"#666666","grid":false}},
"color":{"datum":"中债国债到期收益率:10年","type":"nominal"}
}}
],
"resolve":{"scale":{"y":"independent"}},
"config":{"view":{"stroke":null},"font":"Liberation Sans"}
}
